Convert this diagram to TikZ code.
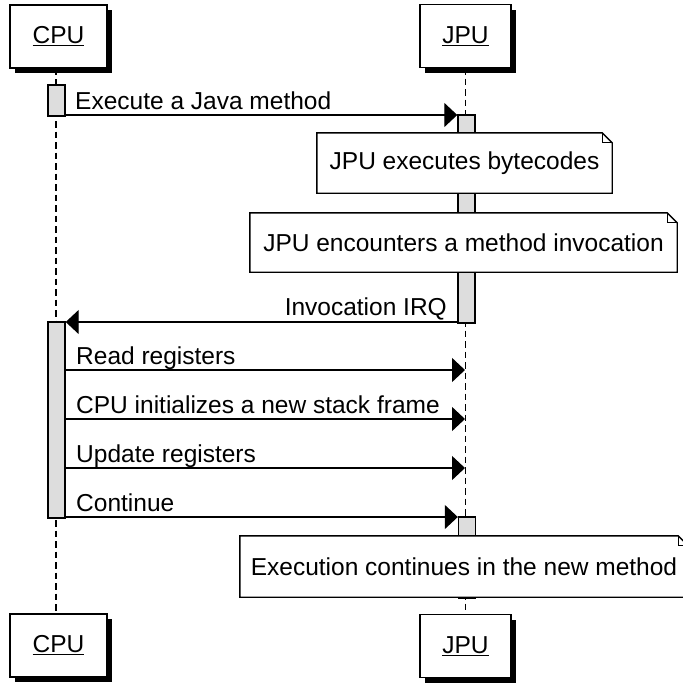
\documentclass[tikz,border=0pt]{standalone}
\usepackage{fontspec}
\setmainfont{Liberation Sans}
\usetikzlibrary{arrows.meta,shadows}
\definecolor{actgray}{RGB}{221,221,221}
\begin{document}
\begin{tikzpicture}[x=1pt,y=-1pt,
  every node/.style={font=\fontsize{24.5}{29}\selectfont, inner sep=0pt},
  participant/.style={draw, line width=1.4pt, fill=white, minimum width=#1,
    minimum height=63pt,
    drop shadow={shadow xshift=5pt, shadow yshift=-5pt, fill=black, opacity=1}},
  lifeline/.style={line width=1.4pt, dash pattern=on 6.5pt off 4pt},
  activation/.style={draw, line width=1.4pt, fill=actgray, minimum width=17pt,
    minimum height=#1},
  message/.style={line width=1.3pt, -{Triangle[length=13pt,width=24pt]}},
  msglabel/.style={anchor=base west},
  notefill/.style={fill=white, minimum width=#1},
  noteline/.style={line width=1.4pt},
]
\useasboundingbox (0,0) rectangle (683,683);

% participants
\node[participant=97pt] (cpuTop) at (58.5,36.5) {\underline{CPU}};
\node[participant=91pt] (jpuTop) at (465.5,36) {\underline{JPU}};
\node[participant=97pt] (cpuBot) at (58.5,645.5) {\underline{CPU}};
\node[participant=91pt] (jpuBot) at (465.5,646) {\underline{JPU}};

% lifelines
\draw[lifeline] (cpuTop.south -| 56,0) -- (cpuBot.north -| 56,0);
\draw[lifeline] (jpuTop.south) -- (jpuBot.north);

% activation bars
\node[activation=31pt]  (cpuA1) at (56.5,100.5) {};
\node[activation=208pt] (jpuA1) at (466.5,219) {};
\node[activation=196pt] (cpuA2) at (56.5,420) {};
\node[activation=81pt]  (jpuA2) at (467,557.5) {};

% points where messages meet the JPU lifeline
\coordinate (jr1) at (465,370);
\coordinate (jr2) at (465,419);
\coordinate (jr3) at (465,468);

% messages
\draw[message] (cpuA1.east |- 0,115) -- (jpuA1.west |- 0,115);
\node[msglabel] (l1) at (75,109) {Execute a Java method};

\draw[message] (jpuA1.west |- 0,322) -- (cpuA2.east |- 0,322);
\node[anchor=base east] (l2) at (447,315) {Invocation IRQ};

\draw[message] (cpuA2.east |- jr1) -- (jr1);
\node[msglabel] (l3) at (76,364.5) {Read registers};

\draw[message] (cpuA2.east |- jr2) -- (jr2);
\node[msglabel] (l4) at (76,413.5) {CPU initializes a new stack frame};

\draw[message] (cpuA2.east |- jr3) -- (jr3);
\node[msglabel] (l5) at (76,462.5) {Update registers};

\draw[message] (cpuA2.east |- 0,517) -- (jpuA2.west |- 0,517);
\node[msglabel] (l6) at (76,511.5) {Continue};

% notes with folded corner
\node[notefill=295pt, minimum height=60pt] (n1) at (464.5,163) {JPU executes bytecodes};
\node[notefill=427pt, minimum height=59pt] (n2) at (463.5,242.5) {JPU encounters a method invocation};
\node[notefill=448pt, minimum height=61pt] (n3) at (464,566.5) {Execution continues in the new method};

\foreach \n in {n1,n2,n3}{
  \draw[noteline] (\n.south west) -- (\n.north west) -- ([xshift=-10pt]\n.north east)
    -- ([yshift=-10pt]\n.north east) -- (\n.south east) -- cycle;
  \draw[line width=0.9pt] ([xshift=-10pt]\n.north east) |- ([yshift=-10pt]\n.north east);
}
\end{tikzpicture}
\end{document}
